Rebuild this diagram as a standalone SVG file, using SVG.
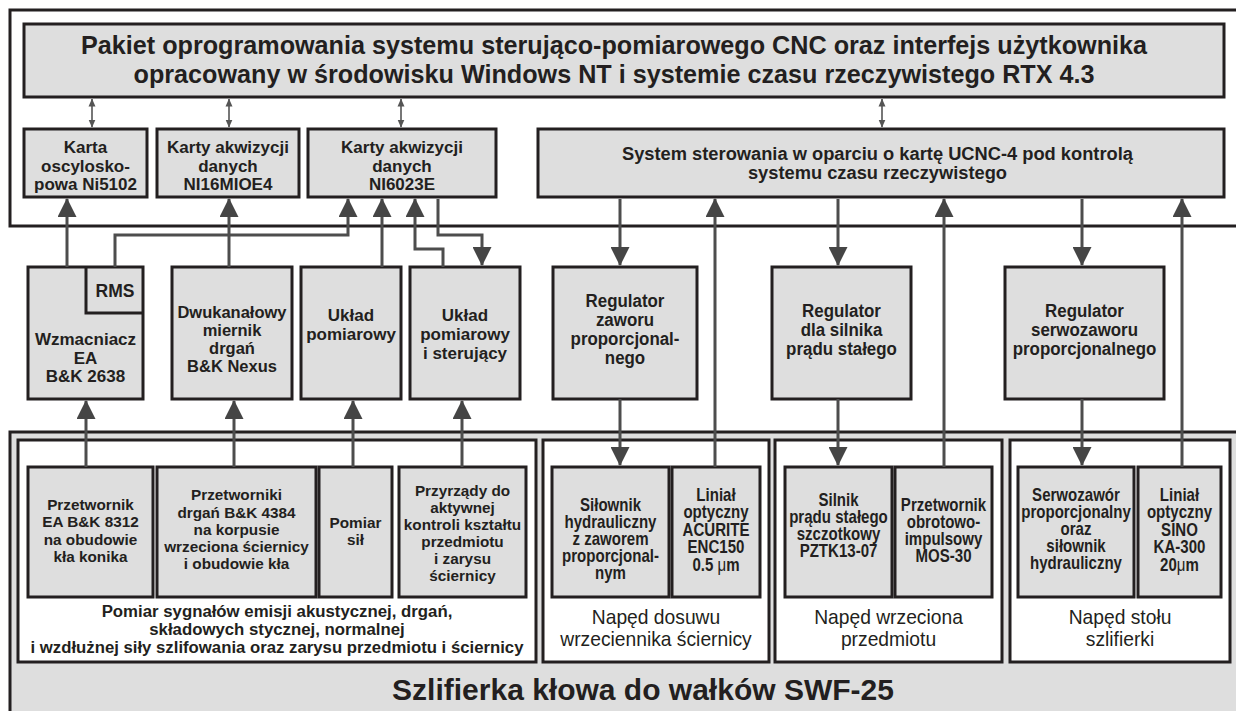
<svg xmlns="http://www.w3.org/2000/svg" width="1236" height="711" viewBox="0 0 1236 711">
<defs>
<style>
.frame{fill:#fff;stroke:#231f20;stroke-width:3}
.gframe{fill:#dedede;stroke:#231f20;stroke-width:3}
.box{fill:#dedede;stroke:#231f20;stroke-width:3}
.ln{fill:none;stroke:#231f20;stroke-width:3}
.c{fill:none;stroke:#4d4d4d;stroke-width:3;marker-end:url(#ah)}
.d{fill:none;stroke:#555;stroke-width:1.6;marker-start:url(#sa);marker-end:url(#sa)}
.t{font-family:"Liberation Sans",Arial,sans-serif;font-weight:bold;fill:#231f20;text-anchor:middle}
.n{font-family:"Liberation Sans",Arial,sans-serif;font-weight:bold;fill:#231f20;text-anchor:middle}
.nr{font-family:"Liberation Sans",Arial,sans-serif;font-weight:normal;fill:#231f20;text-anchor:middle}
</style>
<marker id="ah" markerUnits="userSpaceOnUse" markerWidth="19" markerHeight="19" refX="18" refY="9.5" orient="auto" viewBox="0 0 19 19"><path d="M0,0 L19,9.5 L0,19 z" fill="#454545"/></marker>
<marker id="sa" markerUnits="userSpaceOnUse" markerWidth="8" markerHeight="8" refX="7.5" refY="4" orient="auto-start-reverse" viewBox="0 0 8 8"><path d="M0,0.5 L8,4 L0,7.5 z" fill="#555"/></marker>
</defs>

<g id="top-frame"><rect class="frame" x="10" y="10" width="1240" height="216"/></g>

<g id="pakiet">
<rect class="box" x="24" y="24" width="1200" height="73"/>
<text class="t" font-size="25" x="614" y="54" textLength="1066" lengthAdjust="spacingAndGlyphs">Pakiet oprogramowania systemu sterująco-pomiarowego CNC oraz interfejs użytkownika</text>
<text class="t" font-size="25" x="614" y="83" textLength="961" lengthAdjust="spacingAndGlyphs">opracowany w środowisku Windows NT i systemie czasu rzeczywistego RTX 4.3</text>
</g>

<g id="karta-oscyloskopowa">
<rect class="box" x="24" y="129" width="123" height="68"/>
<text class="t" font-size="17" x="85.5" y="153">Karta</text>
<text class="t" font-size="17" x="85.5" y="172">oscylosko-</text>
<text class="t" font-size="17" x="85.5" y="190">powa Ni5102</text>
</g>

<g id="karty-ni16mioe4">
<rect class="box" x="157" y="129" width="142" height="68"/>
<text class="t" font-size="17" x="228" y="153">Karty akwizycji</text>
<text class="t" font-size="17" x="228" y="172">danych</text>
<text class="t" font-size="17" x="228" y="190">NI16MIOE4</text>
</g>

<g id="karty-ni6023e">
<rect class="box" x="308" y="129" width="188" height="68"/>
<text class="t" font-size="17" x="402" y="153">Karty akwizycji</text>
<text class="t" font-size="17" x="402" y="172">danych</text>
<text class="t" font-size="17" x="402" y="190">NI6023E</text>
</g>

<g id="system-sterowania">
<rect class="box" x="538" y="129" width="686" height="68"/>
<text class="t" font-size="18.3" x="877.5" y="160">System sterowania w oparciu o kartę UCNC-4 pod kontrolą</text>
<text class="t" font-size="18.3" x="877.5" y="179">systemu czasu rzeczywistego</text>
</g>

<g id="wzmacniacz">
<rect class="box" x="28" y="267" width="115" height="132"/>
<path class="ln" d="M86,267 V313 H143"/>
<text class="t" font-size="17.5" x="115" y="297">RMS</text>
<text class="t" font-size="17" x="85.5" y="345">Wzmacniacz</text>
<text class="t" font-size="17" x="85.5" y="364">EA</text>
<text class="t" font-size="17" x="85.5" y="382">B&amp;K 2638</text>
</g>

<g id="dwukanalowy">
<rect class="box" x="172" y="267" width="120" height="132"/>
<text class="t" font-size="16.5" x="232" y="318">Dwukanałowy</text>
<text class="t" font-size="16.5" x="232" y="336">miernik</text>
<text class="t" font-size="16.5" x="232" y="354">drgań</text>
<text class="t" font-size="16.5" x="232" y="372">B&amp;K Nexus</text>
</g>

<g id="uklad-pomiarowy">
<rect class="box" x="301" y="267" width="100" height="132"/>
<text class="t" font-size="17" x="351" y="321">Układ</text>
<text class="t" font-size="17" x="351" y="340">pomiarowy</text>
</g>

<g id="uklad-pomiarowy-sterujacy">
<rect class="box" x="410" y="267" width="110" height="132"/>
<text class="t" font-size="17" x="465" y="321">Układ</text>
<text class="t" font-size="17" x="465" y="340">pomiarowy</text>
<text class="t" font-size="17" x="465" y="359">i sterujący</text>
</g>

<g id="regulator-zaworu">
<rect class="box" x="553" y="267" width="144" height="132"/>
<g transform="translate(625 0) scale(0.89 1)">
<text class="n" font-size="19" x="0" y="307">Regulator</text>
<text class="n" font-size="19" x="0" y="326">zaworu</text>
<text class="n" font-size="19" x="0" y="345">proporcjonal-</text>
<text class="n" font-size="19" x="0" y="364">nego</text>
</g>
</g>

<g id="regulator-silnika">
<rect class="box" x="772" y="267" width="139" height="132"/>
<g transform="translate(841.5 0) scale(0.89 1)">
<text class="n" font-size="19" x="0" y="317">Regulator</text>
<text class="n" font-size="19" x="0" y="336">dla silnika</text>
<text class="n" font-size="19" x="0" y="355">prądu stałego</text>
</g>
</g>

<g id="regulator-serwozaworu">
<rect class="box" x="1005" y="267" width="159" height="132"/>
<g transform="translate(1084.5 0) scale(0.89 1)">
<text class="n" font-size="19" x="0" y="317">Regulator</text>
<text class="n" font-size="19" x="0" y="336">serwozaworu</text>
<text class="n" font-size="19" x="0" y="355">proporcjonalnego</text>
</g>
</g>

<g id="szlifierka">
<rect class="gframe" x="10" y="432" width="1240" height="300"/>
<text class="t" font-size="30" x="643" y="700">Szlifierka kłowa do wałków SWF-25</text>
</g>

<g id="panel-pomiar">
<rect class="frame" x="18" y="440" width="518" height="222"/>
<text class="t" font-size="16.8" x="277" y="617">Pomiar sygnałów emisji akustycznej, drgań,</text>
<text class="t" font-size="16.8" x="277" y="635">składowych stycznej, normalnej</text>
<text class="t" font-size="16.8" x="277" y="653" textLength="493" lengthAdjust="spacingAndGlyphs">i wzdłużnej siły szlifowania oraz zarysu przedmiotu i ściernicy</text>
</g>

<g id="przetwornik-ea">
<rect class="box" x="28" y="467" width="125" height="130"/>
<text class="t" font-size="15.3" x="90.5" y="510">Przetwornik</text>
<text class="t" font-size="15.3" x="90.5" y="527">EA B&amp;K 8312</text>
<text class="t" font-size="15.3" x="90.5" y="545">na obudowie</text>
<text class="t" font-size="15.3" x="90.5" y="562">kła konika</text>
</g>

<g id="przetworniki-drgan">
<rect class="box" x="157" y="467" width="159" height="130"/>
<text class="t" font-size="15.3" x="236.5" y="500">Przetworniki</text>
<text class="t" font-size="15.3" x="236.5" y="518">drgań B&amp;K 4384</text>
<text class="t" font-size="15.3" x="236.5" y="535">na korpusie</text>
<text class="t" font-size="15.3" x="236.5" y="552">wrzeciona ściernicy</text>
<text class="t" font-size="15.3" x="236.5" y="569">i obudowie kła</text>
</g>

<g id="pomiar-sil">
<rect class="box" x="319" y="467" width="73" height="130"/>
<text class="t" font-size="15.3" x="355.5" y="528">Pomiar</text>
<text class="t" font-size="15.3" x="355.5" y="545">sił</text>
</g>

<g id="przyrzady">
<rect class="box" x="399" y="467" width="127" height="130"/>
<text class="t" font-size="15.3" x="462.5" y="496">Przyrządy do</text>
<text class="t" font-size="15.3" x="462.5" y="513">aktywnej</text>
<text class="t" font-size="15.3" x="462.5" y="530">kontroli kształtu</text>
<text class="t" font-size="15.3" x="462.5" y="547">przedmiotu</text>
<text class="t" font-size="15.3" x="462.5" y="564">i zarysu</text>
<text class="t" font-size="15.3" x="462.5" y="581">ściernicy</text>
</g>

<g id="panel-dosuw">
<rect class="frame" x="543" y="440" width="226" height="222"/>
<g transform="translate(656 0) scale(0.94 1)">
<text class="nr" font-size="20.5" x="0" y="624">Napęd dosuwu</text>
<text class="nr" font-size="20.5" x="0" y="646">wrzeciennika ściernicy</text>
</g>
</g>

<g id="silownik">
<rect class="box" x="552" y="467" width="117" height="130"/>
<g transform="translate(610.5 0) scale(0.86 1)">
<text class="n" font-size="17.5" x="0" y="511">Siłownik</text>
<text class="n" font-size="17.5" x="0" y="528">hydrauliczny</text>
<text class="n" font-size="17.5" x="0" y="545">z zaworem</text>
<text class="n" font-size="17.5" x="0" y="562">proporcjonal-</text>
<text class="n" font-size="17.5" x="0" y="579">nym</text>
</g>
</g>

<g id="linial-acurite">
<rect class="box" x="672" y="467" width="88" height="130"/>
<g transform="translate(716 0) scale(0.86 1)">
<text class="n" font-size="17.5" x="0" y="501">Liniał</text>
<text class="n" font-size="17.5" x="0" y="518.5">optyczny</text>
<text class="n" font-size="17.5" x="0" y="536">ACURITE</text>
<text class="n" font-size="17.5" x="0" y="553.5">ENC150</text>
<text class="n" font-size="17.5" x="0" y="571">0.5 <tspan font-weight="normal">μ</tspan>m</text>
</g>
</g>

<g id="panel-wrzeciono">
<rect class="frame" x="775" y="440" width="227" height="222"/>
<g transform="translate(888.5 0) scale(0.94 1)">
<text class="nr" font-size="20.5" x="0" y="624">Napęd wrzeciona</text>
<text class="nr" font-size="20.5" x="0" y="646">przedmiotu</text>
</g>
</g>

<g id="silnik">
<rect class="box" x="785" y="467" width="107" height="130"/>
<g transform="translate(838.5 0) scale(0.86 1)">
<text class="n" font-size="17.5" x="0" y="506">Silnik</text>
<text class="n" font-size="17.5" x="0" y="523">prądu stałego</text>
<text class="n" font-size="17.5" x="0" y="540">szczotkowy</text>
<text class="n" font-size="17.5" x="0" y="557">PZTK13-07</text>
</g>
</g>

<g id="przetwornik-obrotowo">
<rect class="box" x="895" y="467" width="97" height="130"/>
<g transform="translate(943.5 0) scale(0.86 1)">
<text class="n" font-size="17.5" x="0" y="511">Przetwornik</text>
<text class="n" font-size="17.5" x="0" y="528">obrotowo-</text>
<text class="n" font-size="17.5" x="0" y="545">impulsowy</text>
<text class="n" font-size="17.5" x="0" y="562">MOS-30</text>
</g>
</g>

<g id="panel-stol">
<rect class="frame" x="1010" y="440" width="220" height="222"/>
<g transform="translate(1120 0) scale(0.94 1)">
<text class="nr" font-size="20.5" x="0" y="624">Napęd stołu</text>
<text class="nr" font-size="20.5" x="0" y="646">szlifierki</text>
</g>
</g>

<g id="serwozawor">
<rect class="box" x="1018" y="467" width="116" height="130"/>
<g transform="translate(1076 0) scale(0.86 1)">
<text class="n" font-size="17.5" x="0" y="501">Serwozawór</text>
<text class="n" font-size="17.5" x="0" y="518">proporcjonalny</text>
<text class="n" font-size="17.5" x="0" y="535">oraz</text>
<text class="n" font-size="17.5" x="0" y="552">siłownik</text>
<text class="n" font-size="17.5" x="0" y="569">hydrauliczny</text>
</g>
</g>

<g id="linial-sino">
<rect class="box" x="1138" y="467" width="83" height="130"/>
<g transform="translate(1179.5 0) scale(0.86 1)">
<text class="n" font-size="17.5" x="0" y="501">Liniał</text>
<text class="n" font-size="17.5" x="0" y="518.5">optyczny</text>
<text class="n" font-size="17.5" x="0" y="536">SINO</text>
<text class="n" font-size="17.5" x="0" y="553.5">KA-300</text>
<text class="n" font-size="17.5" x="0" y="571">20<tspan font-weight="normal">μ</tspan>m</text>
</g>
</g>

<g id="connectors">
<path class="d" d="M92,99 V127"/>
<path class="d" d="M229,99 V127"/>
<path class="d" d="M401,99 V127"/>
<path class="d" d="M882,99 V127"/>
<path class="c" d="M67,267 V199"/>
<path class="c" d="M115,267 V235 H348 V199"/>
<path class="c" d="M229,267 V199"/>
<path class="c" d="M382,267 V199"/>
<path class="c" d="M443,267 V249 H415 V199"/>
<path class="c" d="M438,199 V235 H482 V265"/>
<path class="c" d="M86,467 V401"/>
<path class="c" d="M234,467 V401"/>
<path class="c" d="M353,467 V401"/>
<path class="c" d="M462,467 V401"/>
<path class="c" d="M620,199 V265"/>
<path class="c" d="M620,399 V465"/>
<path class="c" d="M715,467 V199"/>
<path class="c" d="M838,199 V265"/>
<path class="c" d="M838,399 V465"/>
<path class="c" d="M944,467 V199"/>
<path class="c" d="M1082,199 V265"/>
<path class="c" d="M1082,399 V465"/>
<path class="c" d="M1182,467 V199"/>
</g>
</svg>
